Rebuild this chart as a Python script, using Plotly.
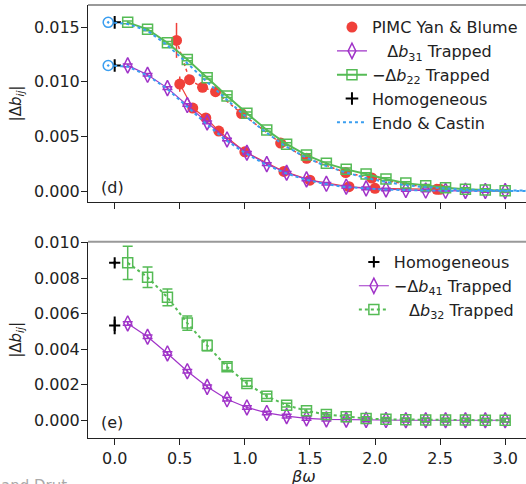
import plotly.graph_objects as go

# ---------------- data ----------------
x_trap = [0.1, 0.2526, 0.4053, 0.5579, 0.7105, 0.8632, 1.0158, 1.1684, 1.3211, 1.4737,
          1.6263, 1.7789, 1.9316, 2.0842, 2.2368, 2.3895, 2.5421, 2.6947, 2.8474, 3.0]

# top panel
b22_trap = [0.01545, 0.01481, 0.01358, 0.01206, 0.01038, 0.0087, 0.00712, 0.00559, 0.0043, 0.0033,
            0.00254, 0.00199, 0.00156, 0.0011, 0.00073, 0.00049, 0.0003, 0.00018, 0.0001, 0.00003]
b22_err = [0.00012] * 20
b31_trap = [0.01151, 0.01065, 0.00943, 0.00788, 0.00629, 0.00473, 0.00351, 0.00247, 0.00168, 0.00107,
            0.00067, 0.0004, 0.00025, 0.00015, 0.0001, 0.00005, 0.00003, 0.00002, 0.00001, 0.0]
b31_err = [0.00012] * 20

pimc_up_x = [0.475, 0.575, 0.675, 0.775, 0.975, 1.275, 1.475, 1.775, 1.975, 2.475]
pimc_up_y = [0.0138, 0.0102, 0.0095, 0.0091, 0.0071, 0.0044, 0.0030, 0.0017, 0.0012, 0.00016]
pimc_up_e = [0.0016, 0.0003, 0.0002, 0.0002, 0.0002, 0.0001, 0.0001, 0.0001, 0.0001, 0.0001]
pimc_lo_x = [0.5, 0.6, 0.7, 0.8, 1.0, 1.3, 1.5, 1.8, 2.0, 2.5]
pimc_lo_y = [0.0098, 0.0076, 0.0067, 0.0055, 0.0036, 0.0018, 0.0010, 0.0004, 0.00025, 0.00016]
pimc_lo_e = [0.0007, 0.0002, 0.0002, 0.0001, 0.0001, 0.0001, 0.0001, 0.0001, 0.0001, 0.0001]

homog_top_x = [0.0, 0.0]
homog_top_y = [0.01545, 0.0115]
homog_top_e = [0.0002, 0.0002]

ec_x = [-0.05, 0.1, 0.25, 0.4, 0.55, 0.7, 0.85, 1.0, 1.15, 1.3, 1.45, 1.6, 1.75, 1.9,
        2.05, 2.2, 2.35, 2.5, 2.65, 2.8, 3.0, 3.3]
ec_up = [0.01545, 0.0153, 0.0147, 0.0134, 0.0118, 0.0101, 0.0085, 0.0069, 0.0055, 0.0042, 0.0032,
         0.0024, 0.0018, 0.0013, 0.0009, 0.0006, 0.0004, 0.00025, 0.00015, 0.0001, 0.00005, 0.00002]
ec_lo = [0.0115, 0.0114, 0.0106, 0.0094, 0.0078, 0.0062, 0.0047, 0.0035, 0.0025, 0.0017, 0.0011,
         0.0007, 0.0004, 0.00025, 0.00015, 0.0001, 0.00006, 0.00003, 0.00002, 0.00001, 0.0, 0.0]
ec_start_x = [-0.05, -0.05]
ec_start_y = [0.01545, 0.0115]

# bottom panel
b32_trap = [0.00886, 0.00805, 0.00692, 0.00547, 0.00421, 0.00301, 0.00207, 0.00135, 0.00085, 0.00053,
            0.00032, 0.00019, 0.0001, 0.00005, 0.00003, 0.00002, 0.00001, 0.00001, 0.0, 0.0]
b32_err = [0.00093, 0.00058, 0.00047, 0.0004, 0.0003, 0.0002, 0.00015, 0.00012, 0.0001, 0.0001,
           0.0001, 0.0001, 0.0001, 0.0001, 0.0001, 0.0001, 0.0001, 0.0001, 0.0001, 0.0001]
b41_trap = [0.00545, 0.0047, 0.00376, 0.00276, 0.00188, 0.00118, 0.00072, 0.00041, 0.00023, 0.0001,
            0.00005, 0.00003, 0.00002, 0.00001, 0.0, 0.0, 0.0, 0.0, 0.0, 0.0]
b41_err = [0.0001] * 20
homog_bot_x = [0.0, 0.0]
homog_bot_y = [0.00886, 0.00534]
homog_bot_e = [0.0001, 0.0005]

x_ticks = [0.0, 0.5, 1.0, 1.5, 2.0, 2.5, 3.0]
y_ticks_top = [0.0, 0.005, 0.010, 0.015]
y_ticks_bot = [0.0, 0.002, 0.004, 0.006, 0.008, 0.010]

# ---------------- style ----------------
GREEN = "#55bb55"
PURPLE = "#a033c8"
RED = "#f0403a"
BLUE = "#3a9ef0"
FONT = "DejaVu Sans"
TXT = "#222"

fig = go.Figure()

# --- top panel ---
fig.add_trace(go.Scatter(x=pimc_up_x, y=pimc_up_y, mode="lines+markers", name="PIMC Yan & Blume",
                         line=dict(color=RED, width=1.5, dash="dot"),
                         marker=dict(symbol="circle", size=11, color=RED),
                         error_y=dict(type="data", array=pimc_up_e, color=RED, thickness=1.5, width=0),
                         xaxis="x", yaxis="y", legend="legend", showlegend=False))
fig.add_trace(go.Scatter(x=pimc_lo_x, y=pimc_lo_y, mode="lines+markers", name="PIMC Yan & Blume",
                         line=dict(color=RED, width=1.2),
                         marker=dict(symbol="circle", size=11, color=RED),
                         error_y=dict(type="data", array=pimc_lo_e, color=RED, thickness=1.5, width=0),
                         xaxis="x", yaxis="y", legend="legend", showlegend=False))
# legend stand-in for PIMC
fig.add_trace(go.Scatter(x=[None], y=[None], mode="markers", name="PIMC Yan & Blume",
                         marker=dict(symbol="circle", size=11, color=RED),
                         xaxis="x", yaxis="y", legend="legend"))
fig.add_trace(go.Scatter(x=x_trap, y=b31_trap, mode="lines+markers",
                         name="\u00a0\u00a0\u00a0\u0394<i>b</i><sub>31</sub> Trapped",
                         line=dict(color=PURPLE, width=1.2),
                         marker=dict(symbol="diamond-tall-open", size=11, color=PURPLE, line=dict(width=1.5)),
                         error_y=dict(type="data", array=b31_err, color=PURPLE, thickness=1.5, width=5),
                         xaxis="x", yaxis="y", legend="legend"))
fig.add_trace(go.Scatter(x=x_trap, y=b22_trap, mode="lines+markers",
                         name="\u2212\u0394<i>b</i><sub>22</sub> Trapped",
                         line=dict(color=GREEN, width=2),
                         marker=dict(symbol="square-open", size=10, color=GREEN, line=dict(width=1.5)),
                         error_y=dict(type="data", array=b22_err, color=GREEN, thickness=1.5, width=5),
                         xaxis="x", yaxis="y", legend="legend"))
fig.add_trace(go.Scatter(x=homog_top_x, y=homog_top_y, mode="markers", name="Homogeneous",
                         marker=dict(symbol="cross-thin-open", size=9, color="black", line=dict(width=2, color="black")),
                         error_y=dict(type="data", array=homog_top_e, color="black", thickness=2, width=0),
                         xaxis="x", yaxis="y", legend="legend"))
fig.add_trace(go.Scatter(x=ec_x, y=ec_up, mode="lines", name="Endo & Castin",
                         line=dict(color=BLUE, width=2, dash="dot"),
                         xaxis="x", yaxis="y", legend="legend"))
fig.add_trace(go.Scatter(x=ec_x, y=ec_lo, mode="lines", name="Endo & Castin",
                         line=dict(color=BLUE, width=2, dash="dot"),
                         xaxis="x", yaxis="y", legend="legend", showlegend=False))
fig.add_trace(go.Scatter(x=ec_start_x, y=ec_start_y, mode="markers", name="Endo & Castin",
                         marker=dict(symbol="circle-dot", size=10, color="white", line=dict(width=1.5, color=BLUE)),
                         xaxis="x", yaxis="y", legend="legend", showlegend=False))

# --- bottom panel ---
fig.add_trace(go.Scatter(x=homog_bot_x, y=homog_bot_y, mode="markers", name="Homogeneous",
                         marker=dict(symbol="cross-thin-open", size=8, color="black", line=dict(width=2, color="black")),
                         error_y=dict(type="data", array=homog_bot_e, color="black", thickness=2, width=0),
                         xaxis="x2", yaxis="y2", legend="legend2"))
fig.add_trace(go.Scatter(x=x_trap, y=b41_trap, mode="lines+markers",
                         name="\u2212\u0394<i>b</i><sub>41</sub> Trapped",
                         line=dict(color=PURPLE, width=1.2),
                         marker=dict(symbol="diamond-tall-open", size=11, color=PURPLE, line=dict(width=1.5)),
                         error_y=dict(type="data", array=b41_err, color=PURPLE, thickness=1.5, width=5),
                         xaxis="x2", yaxis="y2", legend="legend2"))
fig.add_trace(go.Scatter(x=x_trap, y=b32_trap, mode="lines+markers",
                         name="\u00a0\u00a0\u00a0\u0394<i>b</i><sub>32</sub> Trapped",
                         line=dict(color=GREEN, width=2, dash="dot"),
                         marker=dict(symbol="square-open", size=10, color=GREEN, line=dict(width=1.5)),
                         error_y=dict(type="data", array=b32_err, color=GREEN, thickness=1.5, width=5),
                         xaxis="x2", yaxis="y2", legend="legend2"))

axis_common = dict(showline=True, linecolor=TXT, linewidth=1, ticks="outside", ticklen=6,
                   tickcolor=TXT, tickfont=dict(family=FONT, size=16, color=TXT),
                   showgrid=False, zeroline=False, automargin=False)

fig.update_layout(
    width=526, height=484,
    margin=dict(l=88, r=0, t=5, b=46),
    plot_bgcolor="white", paper_bgcolor="white",
    font=dict(family=FONT, size=16, color=TXT),
    xaxis=dict(domain=[0, 1], anchor="y", range=[-0.205, 3.16], tickvals=x_ticks,
               showticklabels=False, **axis_common),
    yaxis=dict(domain=[0.545, 1], anchor="x", range=[-0.001, 0.01704], tickvals=y_ticks_top,
               tickformat=".3f", ticklabelstandoff=-2,
               title=dict(text="|\u0394<i>b<sub>ij</sub></i>|", font=dict(family=FONT, size=15), standoff=8),
               **axis_common),
    xaxis2=dict(domain=[0, 1], anchor="y2", range=[-0.205, 3.16], tickvals=x_ticks, tickformat=".1f",
                **axis_common),
    yaxis2=dict(domain=[0, 0.4533], anchor="x2", range=[-0.001, 0.01005], tickvals=y_ticks_bot,
                tickformat=".3f", ticklabelstandoff=-2,
                title=dict(text="|\u0394<i>b<sub>ij</sub></i>|", font=dict(family=FONT, size=15), standoff=8),
                **axis_common),
    legend=dict(x=0.557, y=0.988, xanchor="left", yanchor="top", bgcolor="rgba(0,0,0,0)",
                font=dict(family=FONT, size=16, color=TXT), traceorder="normal", tracegroupgap=0),
    legend2=dict(x=0.607, y=0.4456, xanchor="left", yanchor="top", bgcolor="rgba(0,0,0,0)",
                 font=dict(family=FONT, size=16, color=TXT), traceorder="normal", tracegroupgap=0),
    showlegend=True,
)

# gray top spines
for yd in (1.0, 0.4533):
    fig.add_shape(type="line", xref="paper", yref="paper", x0=0, x1=1, y0=yd, y1=yd,
                  line=dict(color="#999", width=2))

# x-axis title placed explicitly
fig.add_annotation(x=0.4916, y=-0.090, xref="paper", yref="paper", text="<i>\u03b2\u03c9</i>",
                   showarrow=False, font=dict(family=FONT, size=16, color=TXT),
                   xanchor="center", yanchor="middle")
fig.add_annotation(x=-0.02, y=0.0003, xref="x", yref="y", text="(d)", showarrow=False,
                   font=dict(family=FONT, size=16, color=TXT), xanchor="center")
fig.add_annotation(x=-0.02, y=-0.0001, xref="x2", yref="y2", text="(e)", showarrow=False,
                   font=dict(family=FONT, size=16, color=TXT), xanchor="center")
fig.add_annotation(x=-0.2032, y=-0.085, xref="paper", yref="paper", text="and Drut", showarrow=False,
                   font=dict(family=FONT, size=15, color="#aaa"), xanchor="left", yanchor="top")

fig.write_html("out.html")
